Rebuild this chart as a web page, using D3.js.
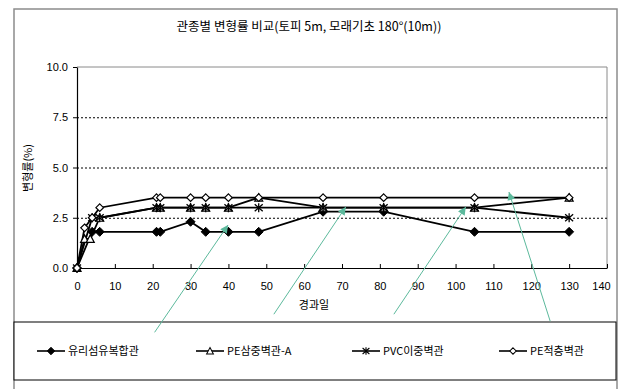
<!DOCTYPE html>
<html>
<head>
<meta charset="utf-8">
<script src="https://cdn.jsdelivr.net/npm/d3@7"></script>
<style>
  body { margin: 0; background: #fff; }
  svg { display: block; }
  text { font-family: "Noto Sans CJK KR", "Liberation Sans", sans-serif; fill: #000; }
</style>
</head>
<body>
<svg id="chart" width="621" height="389"></svg>
<script>
// ---- chart text ----
const chartTitle = "관종별 변형률 비교(토피 5m, 모래기초 180°(10m))";
const xTitle = "경과일";
const yTitle = "변형률(%)";

// ---- axis ticks ----
const xTicks = [0, 10, 20, 30, 40, 50, 60, 70, 80, 90, 100, 110, 120, 130, 140];
const yTicks = [0, 2.5, 5, 7.5, 10];
const yTickLabels = ["0.0", "2.5", "5.0", "7.5", "10.0"];

// ---- series (elapsed days, deformation %) ----
const seriesNames = ["유리섬유복합관", "PE삼중벽관-A", "PVC이중벽관", "PE적층벽관"];

const glassDays = [0, 4, 6, 21, 22, 30, 34, 40, 48, 65, 81, 105, 130];
const glassVals = [0, 1.8, 1.8, 1.8, 1.8, 2.3, 1.8, 1.8, 1.8, 2.8, 2.8, 1.8, 1.8];

const peTripleDays = [0, 2, 3.5, 6, 21, 22, 30, 34, 40, 48, 65, 81, 105, 130];
const peTripleVals = [0, 1.45, 1.45, 2.5, 3.0, 3.0, 3.0, 3.0, 3.0, 3.5, 3.0, 3.0, 3.0, 3.5];

const pvcDays = [0, 4, 6, 21, 22, 30, 34, 40, 48, 65, 81, 105, 130];
const pvcVals = [0, 2.5, 2.5, 3.0, 3.0, 3.0, 3.0, 3.0, 3.0, 3.0, 3.0, 3.0, 2.5];

const peLamDays = [0, 2, 4, 6, 21, 22, 30, 34, 40, 48, 65, 81, 105, 130];
const peLamVals = [0, 2.0, 2.5, 3.0, 3.5, 3.5, 3.5, 3.5, 3.5, 3.5, 3.5, 3.5, 3.5, 3.5];

// ---- annotation arrows (tail -> tip, in data units) ----
const arrowTailDays = [20.5, 52, 83.7, 125];
const arrowTailVals = [-3.2, -2.3, -2.3, -2.65];
const arrowTipDays = [39.9, 71, 102.7, 114.1];
const arrowTipVals = [2.14, 3.04, 3.04, 3.78];

const svg = d3.select("#chart");

const plot = { left: 77, right: 607, top: 67, bottom: 268 };
const x = d3.scaleLinear().domain([0, 140]).range([plot.left, plot.right]);
const y = d3.scaleLinear().domain([0, 10]).range([plot.bottom, plot.top]);

// outer chart frame
svg.append("rect")
  .attr("x", 14).attr("y", 9).attr("width", 603).attr("height", 400)
  .attr("fill", "none").attr("stroke", "#8c8c8c").attr("stroke-width", 1.5);

// title
svg.append("text")
  .attr("x", 309).attr("y", 31)
  .attr("text-anchor", "middle")
  .style("font-size", "12.5px")
  .text(chartTitle);

// plot border (top/right)
svg.append("path")
  .attr("d", `M${plot.left},${plot.top}H${plot.right}V${plot.bottom}`)
  .attr("fill", "none").attr("stroke", "#8a8a8a").attr("stroke-width", 1);

// dashed gridlines
svg.append("g").selectAll("line")
  .data(yTicks.filter(v => v > 0 && v < 10))
  .join("line")
  .attr("x1", plot.left).attr("x2", plot.right)
  .attr("y1", d => y(d) + 0.5).attr("y2", d => y(d) + 0.5)
  .attr("stroke", "#000").attr("stroke-width", 1)
  .attr("stroke-dasharray", "2,2");

// y axis
const yAxis = svg.append("g")
  .attr("transform", `translate(${plot.left},0)`)
  .call(d3.axisLeft(y).tickValues(yTicks)
    .tickFormat((d, i) => yTickLabels[i])
    .tickSizeInner(4).tickSizeOuter(0).tickPadding(5));
yAxis.select(".domain").attr("stroke", "#000").attr("stroke-width", 1.2);
yAxis.selectAll(".tick line").attr("stroke", "#000");
yAxis.selectAll("text")
  .style("font-family", "'Liberation Sans', sans-serif")
  .style("font-size", "11px").attr("fill", "#000");

// x axis
const xAxis = svg.append("g")
  .attr("transform", `translate(0,${plot.bottom})`)
  .call(d3.axisBottom(x).tickValues(xTicks)
    .tickSizeInner(-4).tickSizeOuter(0).tickPadding(14));
xAxis.select(".domain").attr("stroke", "#000").attr("stroke-width", 1.2);
xAxis.selectAll(".tick line").attr("stroke", "#000");
xAxis.selectAll("text")
  .style("font-family", "'Liberation Sans', sans-serif")
  .style("font-size", "11px").attr("fill", "#000");
xAxis.selectAll(".tick").filter(d => d === 140).select("text").attr("dx", -6);

// axis titles
svg.append("text")
  .attr("x", 314).attr("y", 309)
  .attr("text-anchor", "middle")
  .style("font-size", "11px")
  .text(xTitle);
svg.append("text")
  .attr("transform", "translate(32,168) rotate(-90)")
  .attr("text-anchor", "middle")
  .style("font-size", "11px")
  .text(yTitle);

// ---- marker shapes ----
function markerPath(kind) {
  switch (kind) {
    case "diamondFilled": return "M0,-4.5L4.5,0L0,4.5L-4.5,0Z";
    case "triangle": return "M0,-4L4,3.5L-4,3.5Z";
    case "asterisk": return "M0,-4.5V4.5M-4,-3.5L4,3.5M-4,3.5L4,-3.5";
    case "diamondOpen": return "M0,-3.8L3.8,0L0,3.8L-3.8,0Z";
  }
}
function markerStyle(sel, kind) {
  if (kind === "diamondFilled") sel.attr("fill", "#000").attr("stroke", "#000").attr("stroke-width", 1);
  else if (kind === "asterisk") sel.attr("fill", "none").attr("stroke", "#000").attr("stroke-width", 1.3);
  else sel.attr("fill", "#fff").attr("stroke", "#000").attr("stroke-width", 1.2);
}

const series = [
  { name: seriesNames[0], days: glassDays, vals: glassVals, kind: "diamondFilled" },
  { name: seriesNames[1], days: peTripleDays, vals: peTripleVals, kind: "triangle" },
  { name: seriesNames[2], days: pvcDays, vals: pvcVals, kind: "asterisk" },
  { name: seriesNames[3], days: peLamDays, vals: peLamVals, kind: "diamondOpen" }
];

const line = d3.line().x(d => x(d[0])).y(d => y(d[1]));

// lines first, then markers
series.forEach(s => {
  const pts = s.days.map((d, i) => [d, s.vals[i]]);
  svg.append("path")
    .attr("d", line(pts))
    .attr("fill", "none").attr("stroke", "#000").attr("stroke-width", 1.8);
});
series.forEach(s => {
  const pts = s.days.map((d, i) => [d, s.vals[i]]);
  svg.append("g").selectAll("path")
    .data(pts).join("path")
    .attr("transform", d => `translate(${x(d[0])},${y(d[1])})`)
    .attr("d", markerPath(s.kind))
    .call(markerStyle, s.kind);
});

// legend
svg.append("rect")
  .attr("x", 14).attr("y", 322).attr("width", 602).attr("height", 58)
  .attr("fill", "#fff").attr("stroke", "#000").attr("stroke-width", 1);

const legendX = [37, 196, 352, 499];
const legend = svg.append("g").selectAll("g")
  .data(series).join("g")
  .attr("transform", (d, i) => `translate(${legendX[i]},351)`);
legend.append("line")
  .attr("x1", 0).attr("x2", 28).attr("y1", 0).attr("y2", 0)
  .attr("stroke", "#000").attr("stroke-width", 1.6);
legend.append("path")
  .attr("transform", "translate(14,0) scale(0.85)")
  .attr("d", d => markerPath(d.kind))
  .each(function (d) { markerStyle(d3.select(this), d.kind); });
legend.append("text")
  .attr("x", 31).attr("y", 4)
  .style("font-size", "11px")
  .text(d => d.name);

// annotation arrows
const teal = "#5cb99c";
svg.append("defs").append("marker")
  .attr("id", "arrowHead")
  .attr("viewBox", "0 0 10 10")
  .attr("refX", 10).attr("refY", 5)
  .attr("markerWidth", 9).attr("markerHeight", 8)
  .attr("markerUnits", "userSpaceOnUse")
  .attr("orient", "auto")
  .append("path").attr("d", "M0,0L10,5L0,10Z").attr("fill", teal);

svg.append("g").selectAll("line")
  .data(arrowTipDays.map((d, i) => i))
  .join("line")
  .attr("x1", i => x(arrowTailDays[i])).attr("y1", i => y(arrowTailVals[i]))
  .attr("x2", i => x(arrowTipDays[i])).attr("y2", i => y(arrowTipVals[i]))
  .attr("stroke", teal).attr("stroke-width", 1)
  .attr("marker-end", "url(#arrowHead)");
</script>
</body>
</html>
